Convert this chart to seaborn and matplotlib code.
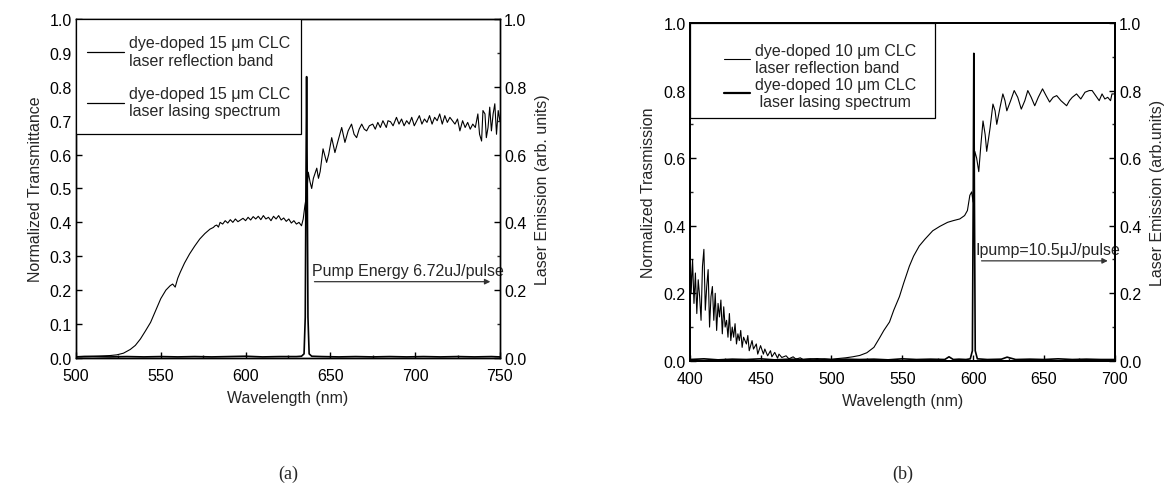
import numpy as np
import pandas as pd
import matplotlib
matplotlib.use("Agg")
import matplotlib.pyplot as plt
import seaborn as sns
from matplotlib.patches import Rectangle
from matplotlib.ticker import MultipleLocator, FormatStrFormatter

# (a) 15 um cell - transmittance
wl_a_T = [500, 505, 510, 515, 520, 524, 528, 532, 535, 538, 541, 544, 547, 550, 553, 555.5, 557, 558.5,
          560, 561.5, 564, 567, 570, 573, 576, 579, 581, 582, 583, 584, 585, 586.5, 588, 589.5, 591, 592.5,
          594, 595.5, 597, 598.5, 600, 601.5, 603, 604.5, 606, 607.5, 609, 610.5, 612, 613.5, 615, 616.5,
          618, 619.5, 621, 622.5, 624, 625.5, 627, 628.5, 630, 631.5, 633, 634, 635, 636, 637, 638, 639,
          640, 642, 643, 644, 645.7, 647.8, 649, 650.8, 652.7, 654.5, 656.7, 658.6, 660.5, 662.5, 664,
          665.5, 667, 668.5, 670, 671.4, 673, 675, 676.5, 678, 679.5, 681, 683, 684, 685.5, 687, 689,
          690.5, 692, 693.5, 695, 696.5, 698, 699.5, 701, 702.5, 704, 705.5, 707, 708.5, 710, 711.5, 713,
          714.5, 716, 717.5, 719, 720.5, 722, 723.5, 725, 726.4, 728, 729.5, 731, 732.5, 734, 735.5, 737,
          738, 739.2, 740, 741.2, 742, 743, 744, 745, 746, 747, 748, 749, 750]
T_a = [0.004, 0.005, 0.005, 0.006, 0.007, 0.009, 0.014, 0.025, 0.037, 0.056, 0.08, 0.105, 0.14, 0.175, 0.20,
       0.213, 0.218, 0.209, 0.235, 0.253, 0.28, 0.307, 0.33, 0.351, 0.367, 0.38, 0.385, 0.39, 0.392, 0.386,
       0.40, 0.395, 0.405, 0.398, 0.408, 0.40, 0.41, 0.402, 0.407, 0.412, 0.405, 0.415, 0.407, 0.417, 0.41,
       0.418, 0.408, 0.42, 0.41, 0.415, 0.405, 0.418, 0.41, 0.42, 0.407, 0.413, 0.403, 0.41, 0.398, 0.405,
       0.395, 0.40, 0.39, 0.41, 0.45, 0.48, 0.548, 0.52, 0.50, 0.53, 0.56, 0.53, 0.55, 0.617, 0.577, 0.60,
       0.65, 0.606, 0.64, 0.68, 0.636, 0.67, 0.69, 0.66, 0.65, 0.675, 0.69, 0.675, 0.67, 0.685, 0.69,
       0.675, 0.695, 0.68, 0.70, 0.68, 0.70, 0.697, 0.685, 0.71, 0.69, 0.705, 0.685, 0.70, 0.69, 0.71,
       0.685, 0.70, 0.715, 0.69, 0.705, 0.695, 0.715, 0.69, 0.71, 0.70, 0.72, 0.69, 0.715, 0.695, 0.71,
       0.70, 0.69, 0.705, 0.67, 0.70, 0.68, 0.695, 0.675, 0.69, 0.68, 0.72, 0.66, 0.64, 0.73, 0.72, 0.65,
       0.68, 0.74, 0.67, 0.72, 0.75, 0.66, 0.73, 0.70]

# (a) lasing spectrum
wl_a_L = [500, 510, 520, 530, 540, 550, 560, 570, 580, 590, 600, 610, 620, 630, 633, 634.5, 635.2, 635.6,
          636, 636.4, 636.8, 637.5, 639, 645, 655, 665, 675, 685, 695, 705, 715, 725, 735, 745, 750]
L_a = [0.003, 0.004, 0.003, 0.004, 0.003, 0.004, 0.003, 0.004, 0.003, 0.004, 0.005, 0.003, 0.004, 0.004,
       0.005, 0.012, 0.12, 0.5, 0.83, 0.5, 0.12, 0.012, 0.005, 0.004, 0.003, 0.004, 0.003, 0.004, 0.003,
       0.004, 0.003, 0.004, 0.003, 0.004, 0.003]

# (b) 10 um cell - transmission
wl_b_T = [400, 401, 402, 403, 404, 405, 406, 407, 408, 409, 410, 411, 412, 413, 414, 415, 416, 417, 418,
          419, 420, 421, 422, 423, 424, 425, 426, 427, 428, 429, 430, 431, 432, 433, 434, 435, 436, 437,
          438, 440, 441, 442, 444, 445, 447, 448, 450, 452, 453, 455, 457, 458, 460, 462, 463, 465, 468,
          470, 473, 475, 478, 480, 485, 490, 495, 500, 505, 510, 515, 520, 525, 530, 534, 537, 541, 544,
          548, 551, 555, 558, 562, 566, 571.5, 576.5, 582, 586, 590.6, 594, 596, 597.7, 599, 600, 601.2,
          602.5, 604, 605.5, 607, 608.5, 609.6, 612, 614, 615.5, 616.7, 619, 621, 622.5, 623.8, 626.5,
          629, 631.5, 634, 636.5, 638.6, 641, 643.5, 646, 649, 651.5, 654, 656.5, 659, 662, 666, 668, 670,
          673, 676, 679, 682, 684, 686.5, 689, 691, 693, 695, 697, 698, 700]
T_b = [0.38, 0.2, 0.3, 0.17, 0.26, 0.14, 0.24, 0.19, 0.12, 0.28, 0.33, 0.15, 0.22, 0.27, 0.1, 0.19, 0.22,
       0.12, 0.2, 0.09, 0.17, 0.13, 0.18, 0.08, 0.16, 0.1, 0.12, 0.07, 0.14, 0.06, 0.1, 0.07, 0.11, 0.05,
       0.08, 0.06, 0.09, 0.04, 0.07, 0.05, 0.075, 0.03, 0.06, 0.035, 0.05, 0.02, 0.045, 0.02, 0.035,
       0.015, 0.03, 0.012, 0.025, 0.008, 0.02, 0.01, 0.015, 0.006, 0.012, 0.005, 0.009, 0.004, 0.006,
       0.004, 0.006, 0.005, 0.007, 0.009, 0.012, 0.016, 0.024, 0.04, 0.068, 0.09, 0.115, 0.15, 0.19,
       0.23, 0.28, 0.31, 0.34, 0.36, 0.385, 0.398, 0.41, 0.415, 0.42, 0.43, 0.445, 0.49, 0.5, 0.47, 0.62,
       0.6, 0.56, 0.64, 0.71, 0.67, 0.62, 0.69, 0.76, 0.74, 0.70, 0.75, 0.79, 0.77, 0.74, 0.77, 0.80, 0.78,
       0.745, 0.77, 0.80, 0.78, 0.755, 0.78, 0.805, 0.785, 0.766, 0.78, 0.785, 0.77, 0.755, 0.77, 0.78,
       0.79, 0.775, 0.795, 0.80, 0.80, 0.785, 0.77, 0.79, 0.775, 0.78, 0.77, 0.79, 0.79]

# (b) lasing spectrum
wl_b_L = [400, 410, 420, 430, 440, 450, 460, 470, 480, 490, 500, 510, 520, 530, 540, 550, 560, 570, 580,
          583, 586, 590, 595, 598, 599.5, 600.1, 600.5, 600.9, 601.5, 603, 610, 620, 624, 630, 640, 650,
          660, 670, 680, 690, 700]
L_b = [0.004, 0.006, 0.003, 0.005, 0.004, 0.006, 0.003, 0.005, 0.004, 0.006, 0.003, 0.005, 0.004, 0.005,
       0.003, 0.006, 0.004, 0.005, 0.004, 0.012, 0.004, 0.005, 0.004, 0.006, 0.03, 0.5, 0.91, 0.5, 0.03,
       0.006, 0.004, 0.005, 0.011, 0.004, 0.005, 0.004, 0.006, 0.004, 0.005, 0.004, 0.004]

sns.set_theme(style="ticks")
plt.rcParams["font.family"] = ["Liberation Sans", "DejaVu Sans"]
plt.rcParams["xtick.direction"] = "in"
plt.rcParams["ytick.direction"] = "in"

fig = plt.figure(figsize=(11.71, 4.89), dpi=100)
FS = 11.5

panels = [
    dict(pos=[0.0649, 0.266, 0.362, 0.693], wT=wl_a_T, T=T_a, wL=wl_a_L, L=L_a, xlim=(500, 750),
         ylab="Normalized Transmittance", rlab="Laser Emission (arb. units)", left_major=0.1,
         left_minor=None, lw_leg=(0.9, 0.9), box=(0.531, 0.339),
         lab1="dye-doped 15 \u03bcm CLC\nlaser reflection band",
         lab2="dye-doped 15 \u03bcm CLC\nlaser lasing spectrum",
         leg_anchor=(0.0, 0.985), hl=2.3, lsp=1.15,
         note="Pump Energy 6.72uJ/pulse", note_x=639, arrow=(639, 746, 0.225), tag="(a)", spw=1.0),
    dict(pos=[0.589, 0.260, 0.363, 0.691], wT=wl_b_T, T=T_b, wL=wl_b_L, L=L_b, xlim=(400, 700),
         ylab="Normalized Trasmission", rlab="Laser Emission (arb.units)", left_major=0.2,
         left_minor=0.1, lw_leg=(0.8, 1.6), box=(0.576, 0.28),
         lab1="dye-doped 10 \u03bcm CLC\nlaser reflection band",
         lab2="dye-doped 10 \u03bcm CLC\n laser lasing spectrum",
         leg_anchor=(0.055, 0.975), hl=1.6, lsp=0.1,
         note="Ipump=10.5\u03bcJ/pulse", note_x=601.5, arrow=(604, 697, 0.296), tag="(b)", spw=1.4),
]

for p in panels:
    ax = fig.add_axes(p["pos"])
    ax2 = ax.twinx()
    sns.lineplot(x=p["wT"], y=p["T"], ax=ax, color="black", lw=0.8, estimator=None, sort=False)
    sns.lineplot(x=p["wL"], y=p["L"], ax=ax2, color="black", lw=1.2, estimator=None, sort=False)
    ax.set_xlim(*p["xlim"])
    ax.set_ylim(0, 1.0)
    ax2.set_ylim(0, 1.0)
    ax.xaxis.set_major_locator(MultipleLocator(50))
    ax.xaxis.set_minor_locator(MultipleLocator(25))
    ax.yaxis.set_major_locator(MultipleLocator(p["left_major"]))
    if p["left_minor"]:
        ax.yaxis.set_minor_locator(MultipleLocator(p["left_minor"]))
    ax2.yaxis.set_major_locator(MultipleLocator(0.2))
    ax2.yaxis.set_minor_locator(MultipleLocator(0.1))
    for a in (ax, ax2):
        a.tick_params(which="major", length=4, width=1, labelsize=FS, colors="black", pad=3)
        a.tick_params(which="minor", length=2.5, width=1)
        for s in a.spines.values():
            s.set_linewidth(p["spw"])
            s.set_color("black")
    ax.tick_params(axis="x", pad=7)
    ax.yaxis.set_major_formatter(FormatStrFormatter("%.1f"))
    ax2.yaxis.set_major_formatter(FormatStrFormatter("%.1f"))
    ax.set_xlabel("Wavelength (nm)", fontsize=FS, labelpad=5)
    ax.set_ylabel(p["ylab"], fontsize=FS, labelpad=5)
    ax2.set_ylabel(p["rlab"], fontsize=FS, labelpad=6)

    # legend box
    bw, bh = p["box"]
    ax2.add_patch(Rectangle((0, 1 - bh), bw, bh, transform=ax2.transAxes, fill=True, fc="white",
                            ec="black", lw=0.9, zorder=5))
    h1, = ax2.plot([], [], color="black", lw=p["lw_leg"][0])
    h2, = ax2.plot([], [], color="black", lw=p["lw_leg"][1])
    leg = ax2.legend([h1, h2], [p["lab1"], p["lab2"]], loc="upper left", bbox_to_anchor=p["leg_anchor"],
                     frameon=False, fontsize=FS, handlelength=p["hl"], handletextpad=0.3,
                     labelspacing=p["lsp"], borderaxespad=0.3)
    leg.set_zorder(6)

    x0, x1, ya = p["arrow"]
    ax.annotate("", xy=(x1, ya), xytext=(x0, ya),
                arrowprops=dict(arrowstyle="-|>", color="#333333", lw=0.9, mutation_scale=8))
    ax.text(p["note_x"], ya + 0.012, p["note"], fontsize=FS, ha="left", va="bottom")

    cx = p["pos"][0] + p["pos"][2] / 2
    fig.text(cx, 0.03, p["tag"], fontsize=13, ha="center", va="center",
             family=["Liberation Serif", "DejaVu Serif"])

fig.savefig("out.png", dpi=100)
